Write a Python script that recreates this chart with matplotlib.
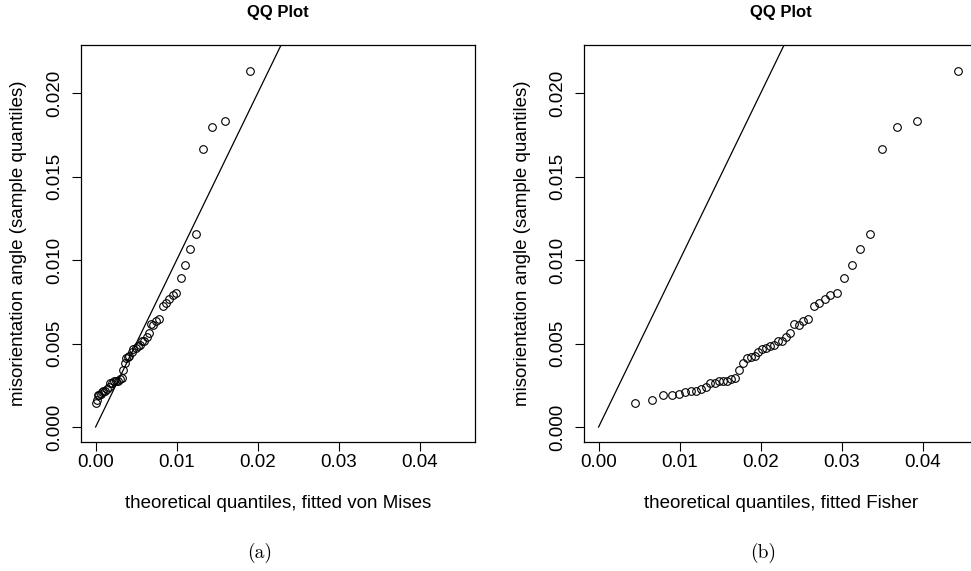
import matplotlib
matplotlib.use("Agg")
import matplotlib.pyplot as plt

# sample quantiles (misorientation angle), sorted ascending
sample_q = [0.00142, 0.00160, 0.00190, 0.00194, 0.00198, 0.00210, 0.00214, 0.00216,
            0.00230, 0.00240, 0.00262, 0.00264, 0.00276, 0.00274, 0.00278, 0.00286,
            0.00292, 0.00342, 0.00384, 0.00414, 0.00420, 0.00428, 0.00450, 0.00468,
            0.00476, 0.00488, 0.00492, 0.00518, 0.00518, 0.00538, 0.00562, 0.00614,
            0.00612, 0.00636, 0.00648, 0.00724, 0.00740, 0.00764, 0.00792, 0.00800,
            0.00892, 0.00970, 0.01064, 0.01156, 0.01668, 0.01798, 0.01834, 0.02130]

# theoretical quantiles, fitted von Mises
vm_q = [0.00001, 0.00012, 0.00032, 0.00044, 0.00062, 0.00078, 0.00094, 0.00115,
        0.00136, 0.00160, 0.00180, 0.00201, 0.00222, 0.00247, 0.00271, 0.00296,
        0.00320, 0.00341, 0.00361, 0.00374, 0.00395, 0.00415, 0.00444, 0.00464,
        0.00493, 0.00522, 0.00546, 0.00572, 0.00600, 0.00629, 0.00661, 0.00686,
        0.00710, 0.00740, 0.00777, 0.00826, 0.00863, 0.00900, 0.00950, 0.00994,
        0.01048, 0.01105, 0.01167, 0.01240, 0.01327, 0.01438, 0.01594, 0.01903]

# theoretical quantiles, fitted Fisher
fisher_q = [0.00451, 0.00661, 0.00793, 0.00900, 0.00986, 0.01064, 0.01134, 0.01200,
            0.01261, 0.01319, 0.01376, 0.01430, 0.01483, 0.01533, 0.01582, 0.01635,
            0.01680, 0.01730, 0.01776, 0.01825, 0.01874, 0.01924, 0.01968, 0.02017,
            0.02063, 0.02112, 0.02158, 0.02207, 0.02257, 0.02306, 0.02359, 0.02412,
            0.02466, 0.02523, 0.02585, 0.02651, 0.02716, 0.02787, 0.02860, 0.02938,
            0.03021, 0.03120, 0.03222, 0.03345, 0.03490, 0.03678, 0.03933, 0.04439]

x_ticks = [0.00, 0.01, 0.02, 0.03, 0.04]
y_ticks = [0.000, 0.005, 0.010, 0.015, 0.020]

plt.rcParams['font.family'] = ['Liberation Sans', 'DejaVu Sans']

W, H = 971, 571
fig = plt.figure(figsize=(W / 100, H / 100), dpi=100)

panels = [
    (81, vm_q, "theoretical quantiles, fitted von Mises", "(a)", 260),
    (584, fisher_q, "theoretical quantiles, fitted Fisher", "(b)", 763),
]

for left_px, xq, xlabel, cap, cap_x in panels:
    ax = fig.add_axes([left_px / W, 1 - 441.7 / H, 394 / W, 396.7 / H])
    ax.plot(xq, sample_q, 'o', mfc='none', mec='black', ms=5.5, mew=0.8)
    ax.plot([0, 0.03], [0, 0.03], color='black', lw=0.9)
    ax.set_xlim(-0.0018, 0.0468)
    ax.set_ylim(-0.00088, 0.02288)
    ax.set_xticks(x_ticks)
    ax.set_xticklabels([f"{v:.2f}" for v in x_ticks])
    ax.set_yticks(y_ticks)
    ax.set_yticklabels([f"{v:.3f}" for v in y_ticks], rotation=90, va='center')
    ax.tick_params(axis='both', direction='out', length=6.5, width=0.8,
                   labelsize=13.5, color='black')
    ax.tick_params(axis='x', pad=2)
    ax.tick_params(axis='y', pad=6)
    for sp in ax.spines.values():
        sp.set_linewidth(0.9)
    ax.set_title("QQ Plot", fontsize=12, fontweight='bold', y=(441.7 - 13) / 396.7,
                 va='center', pad=0)
    ax.set_xlabel(xlabel, fontsize=13.5)
    ax.xaxis.set_label_coords(0.5, -(503 - 441.7) / 396.7)
    ax.xaxis.label.set_va('center')
    ax.set_ylabel("misorientation angle (sample quantiles)", fontsize=13.5)
    ax.yaxis.set_label_coords(-(left_px - (19 if left_px < 300 else 522)) / 394, 0.5)
    ax.yaxis.label.set_va('center')
    fig.text(cap_x / W, 1 - 553 / H, cap, ha='center', va='center',
             fontsize=14, family='cmr10')

fig.savefig("out.png", dpi=100)
